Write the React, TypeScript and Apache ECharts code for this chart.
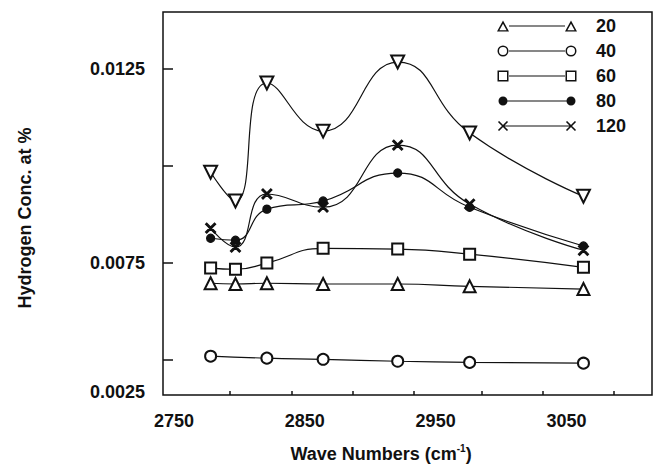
import React, { useEffect, useRef } from "react";
import * as echarts from "echarts";

// Wave numbers (cm-1) of the measurement points
const xValues = [2778, 2797, 2821, 2864, 2921, 2976, 3063];
const x40 = [2778, 2821, 2864, 2921, 2976, 3063];

// Hydrogen concentration (at %) per series
const s20 = [0.00697, 0.00695, 0.00697, 0.00695, 0.00695, 0.00689, 0.00682];
const s40 = [0.00509, 0.00504, 0.00501, 0.00496, 0.00493, 0.00491];
const s60 = [0.00736, 0.00733, 0.00749, 0.00787, 0.00785, 0.00772, 0.00738];
const s80 = [0.00813, 0.00808, 0.00888, 0.00909, 0.00981, 0.00893, 0.00793];
const s120 = [0.00839, 0.0079, 0.00927, 0.00893, 0.01053, 0.00901, 0.00782];
const sTop = [0.00983, 0.00909, 0.01213, 0.01089, 0.01267, 0.01084, 0.00921];

// Axis ticks and labels as printed
const xLabelValues = [2750, 2850, 2950, 3050];
const xTickValues = [2793, 2840, 2887, 2933, 2985, 3032, 3086];
const yTickValues = [0.005, 0.0075, 0.01, 0.0125];
const yLabelValues = [0.0125, 0.0075, 0.00418];
const yLabelTexts = ["0.0125", "0.0075", "0.0025"];

const FONT = '"Liberation Sans", Arial, Helvetica, sans-serif';

const crossPath =
  "path://M2.07,0.93 L11.07,9.93 L9.93,11.07 L0.93,2.07 Z M0.93,9.93 L9.93,0.93 L11.07,2.07 L2.07,11.07 Z";

// legend icons: marker - line - marker, in an 80x12 box
const bbox = "M0,0 M80,12 ";
const line = "M12,5.4 L68,5.4 L68,6.6 L12,6.6 Z ";
const fullLine = "M6,5.4 L74,5.4 L74,6.6 L6,6.6 Z ";
const tri = (cx: number) =>
  `M${cx - 6},11.5 L${cx},0.5 L${cx + 6},11.5 Z M${cx - 3.6},10.2 L${cx + 3.6},10.2 L${cx},3.7 Z `;
const circ = (cx: number) =>
  `M${cx - 5.5},6 A5.5,5.5 0 1,1 ${cx + 5.5},6 A5.5,5.5 0 1,1 ${cx - 5.5},6 Z M${cx - 4},6 A4,4 0 1,0 ${cx + 4},6 A4,4 0 1,0 ${cx - 4},6 Z `;
const sq = (cx: number) =>
  `M${cx - 5.5},0.5 L${cx + 5.5},0.5 L${cx + 5.5},11.5 L${cx - 5.5},11.5 Z M${cx - 4},2 L${cx - 4},10 L${cx + 4},10 L${cx + 4},2 Z `;
const dot = (cx: number) =>
  `M${cx - 4.5},6 A4.5,4.5 0 1,1 ${cx + 4.5},6 A4.5,4.5 0 1,1 ${cx - 4.5},6 Z `;
const cross = (cx: number) => {
  const o = cx - 6;
  const p = (x: number, y: number) => `${(x + o).toFixed(2)},${y}`;
  return `M${p(2.07, 0.93)} L${p(11.07, 9.93)} L${p(9.93, 11.07)} L${p(0.93, 2.07)} Z M${p(0.93, 9.93)} L${p(9.93, 0.93)} L${p(11.07, 2.07)} L${p(2.07, 11.07)} Z `;
};
const icon = (f: (cx: number) => string, l: string = line) =>
  "path://" + bbox + l + f(6) + f(74);

const pairs = (xs: number[], ys: number[]) => xs.map((x, i) => [x, ys[i]]);

export default function App() {
  const ref = useRef<HTMLDivElement>(null);
  useEffect(() => {
    if (!ref.current) return;
    const chart = echarts.init(ref.current, null, { renderer: "svg" });
    const baseSeries = (name: string, data: number[][], symbol: string, size: number, extra: any = {}) => ({
      name,
      type: "line",
      data,
      smooth: 0.5,
      symbol,
      symbolSize: size,
      showAllSymbol: true,
      lineStyle: { color: "#111", width: 1.2 },
      itemStyle: { color: "#111", borderColor: "#111", borderWidth: 1.3 },
      emphasis: { disabled: true },
      ...extra,
    });
    chart.setOption({
      animation: false,
      backgroundColor: "#fff",
      grid: {
        left: 163,
        right: 3,
        top: 12,
        bottom: 77,
        show: true,
        borderColor: "#111",
        borderWidth: 1.5,
        backgroundColor: "transparent",
      },
      xAxis: {
        type: "value",
        min: 2741.6,
        max: 3115.4,
        axisLine: { show: false },
        splitLine: { show: false },
        axisTick: {
          show: true,
          inside: true,
          length: 4,
          customValues: xTickValues,
          lineStyle: { color: "#111", width: 1.5 },
        },
        axisLabel: {
          customValues: xLabelValues,
          margin: 17,
          fontFamily: FONT,
          fontWeight: "bold",
          fontSize: 18,
          color: "#111",
          formatter: (v: number) => String(Math.round(v)),
        },
      },
      yAxis: {
        type: "value",
        min: 0.00409,
        max: 0.01396,
        axisLine: { show: false },
        splitLine: { show: false },
        axisTick: {
          show: true,
          inside: true,
          length: 10,
          customValues: yTickValues,
          lineStyle: { color: "#111", width: 1.5 },
        },
        axisLabel: {
          customValues: yLabelValues,
          margin: 18,
          fontFamily: FONT,
          fontWeight: "bold",
          fontSize: 18,
          color: "#111",
          formatter: (v: number) => {
            let best = 0;
            yLabelValues.forEach((lv, i) => {
              if (Math.abs(lv - v) < Math.abs(yLabelValues[best] - v)) best = i;
            });
            return yLabelTexts[best];
          },
        },
      },
      legend: {
        orient: "vertical",
        left: 497,
        top: 17,
        padding: 0,
        itemWidth: 80,
        itemHeight: 12,
        itemGap: 7,
        selectedMode: false,
        textStyle: {
          fontFamily: FONT,
          fontWeight: "bold",
          fontSize: 18,
          color: "#111",
          padding: [0, 0, 0, 14],
        },
        itemStyle: { color: "#111", borderWidth: 0 },
        lineStyle: { width: 0 },
        data: [
          { name: "20", icon: icon(tri) },
          { name: "40", icon: icon(circ) },
          { name: "60", icon: icon(sq) },
          { name: "80", icon: icon(dot, fullLine) },
          { name: "120", icon: icon(cross, fullLine) },
        ],
      },
      graphic: [
        {
          type: "text",
          x: 25,
          y: 218,
          rotation: Math.PI / 2,
          style: {
            text: "Hydrogen Conc. at %",
            font: `bold 18px ${FONT}`,
            fill: "#111",
            align: "center",
            verticalAlign: "middle",
          },
        },
        {
          type: "text",
          x: 381,
          y: 453,
          style: {
            text: "{a|Wave Numbers (cm}{s|-1}{a|)}",
            align: "center",
            verticalAlign: "middle",
            rich: {
              a: { fontFamily: FONT, fontWeight: "bold", fontSize: 18, fill: "#111", lineHeight: 20, verticalAlign: "bottom" },
              s: { fontFamily: FONT, fontWeight: "bold", fontSize: 10, fill: "#111", lineHeight: 20, verticalAlign: "top" },
            },
          },
        },
      ],
      series: [
        baseSeries("unlabeled", pairs(xValues, sTop), "emptyTriangle", 13, { symbolRotate: 180 }),
        baseSeries("20", pairs(xValues, s20), "emptyTriangle", 12),
        baseSeries("40", pairs(x40, s40), "emptyCircle", 11),
        baseSeries("60", pairs(xValues, s60), "emptyRect", 11),
        baseSeries("80", pairs(xValues, s80), "circle", 8),
        baseSeries("120", pairs(xValues, s120), crossPath, 10),
      ],
    });
    return () => chart.dispose();
  }, []);
  return (
    <div
      ref={ref}
      style={{ position: "absolute", left: 0, top: 0, width: 655, height: 472, background: "#fff" }}
    />
  );
}
